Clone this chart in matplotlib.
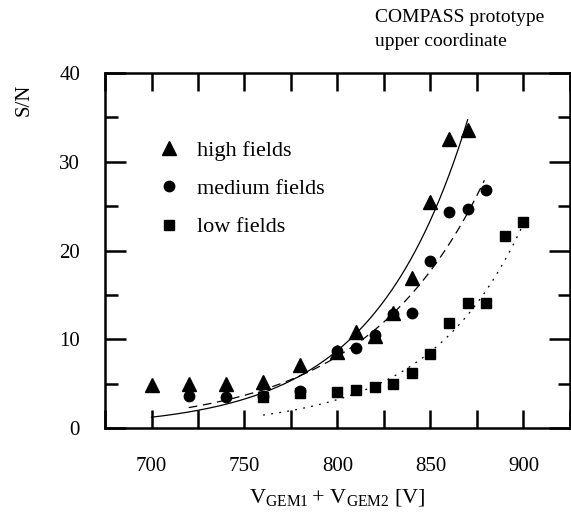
import numpy as np
import matplotlib.pyplot as plt
from matplotlib.ticker import MultipleLocator

plt.rcParams['font.family'] = ['Liberation Serif', 'DejaVu Serif']
plt.rcParams['mathtext.fontset'] = 'custom'
plt.rcParams['mathtext.rm'] = 'Liberation Serif'
plt.rcParams['mathtext.it'] = 'Liberation Serif:italic'

# measured points
v_high = [700, 720, 740, 760, 780, 800, 810, 820, 830, 840, 850, 860, 870]
sn_high = [4.9, 5.0, 5.0, 5.2, 7.1, 8.6, 10.8, 10.4, 13.0, 16.9, 25.5, 32.6, 33.6]

v_med = [720, 740, 760, 780, 800, 810, 820, 830, 840, 850, 860, 870, 880]
sn_med = [3.6, 3.5, 3.6, 4.2, 8.7, 9.0, 10.5, 12.9, 13.0, 18.8, 24.3, 24.7, 26.8]

v_low = [760, 780, 800, 810, 820, 830, 840, 850, 860, 870, 880, 890, 900]
sn_low = [3.5, 4.0, 4.05, 4.3, 4.6, 5.0, 6.2, 8.3, 11.8, 14.1, 14.1, 21.6, 23.2]

# exponential fits: amplitude, slope, start, end
fit_high = (1.22, 0.0197, 700, 870)
fit_med = (2.3, 0.0157, 720, 879)
fit_low = (1.46, 0.0197, 760, 900)


def fit_curve(p):
    a, b, x0, x1 = p
    x = np.linspace(x0, x1, 200)
    return x, a * np.exp(b * (x - x0))


fig = plt.figure(figsize=(5.71, 5.12), dpi=100)
ax = fig.add_axes([0.1839, 0.164, 0.8143, 0.6934])

ax.plot(v_high, sn_high, '^', color='black', markersize=10, label='high fields')
ax.plot(v_med, sn_med, 'o', color='black', markersize=7.5, label='medium fields')
ax.plot(v_low, sn_low, 's', color='black', markersize=6.5, label='low fields')

x, y = fit_curve(fit_high)
ax.plot(x, y, '-', color='black', linewidth=0.9)
x, y = fit_curve(fit_med)
ax.plot(x, y, color='black', linewidth=0.9, dashes=(7, 4.5))
x, y = fit_curve(fit_low)
ax.plot(x, y, color='black', linewidth=0.9, dashes=(1.5, 5))

ax.set_xlim(675, 925)
ax.set_ylim(0, 40)
ax.xaxis.set_major_locator(MultipleLocator(50))
ax.xaxis.set_minor_locator(MultipleLocator(25))
ax.yaxis.set_major_locator(MultipleLocator(10))
ax.yaxis.set_minor_locator(MultipleLocator(5))

ax.tick_params(axis='x', which='both', direction='in', top=True, length=13, width=1.8,
               labelsize=15, pad=21)
ax.tick_params(axis='y', which='major', direction='in', right=True, length=15, width=1.8,
               labelsize=15, pad=18)
ax.tick_params(axis='y', which='minor', direction='in', right=True, length=9, width=1.8)

for spine in ax.spines.values():
    spine.set_linewidth(1.8)

ax.set_xlabel(r'$\mathrm{V_{GEM1}+\,V_{GEM2}}$ [V]', fontsize=16, labelpad=8)
ax.set_ylabel('S/N', fontsize=15)
ax.yaxis.set_label_coords(-0.153, 0.925)

ax.legend(loc='upper left', bbox_to_anchor=(0.09, 0.842), frameon=False, fontsize=16,
          handlelength=1.0, handletextpad=0.75, labelspacing=0.8, borderpad=0)

fig.text(375 / 571, 1 - 9 / 512, 'COMPASS prototype\nupper coordinate', fontsize=14,
         ha='left', va='top', linespacing=1.55)

fig.savefig('out.png', dpi=100)
plt.close(fig)
